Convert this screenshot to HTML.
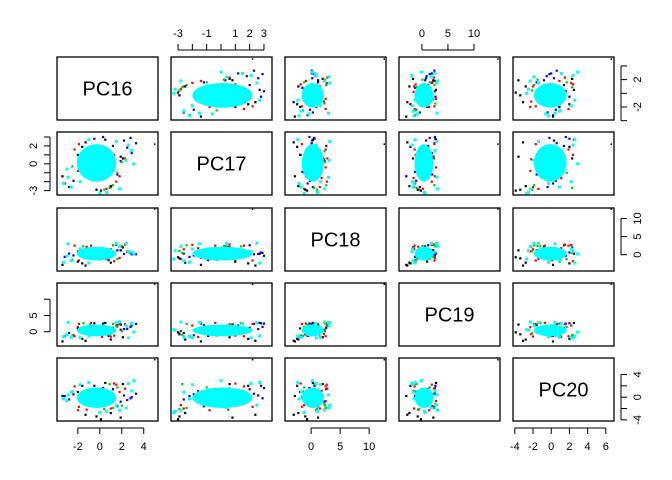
<!DOCTYPE html>
<html><head><meta charset="utf-8"><style>
body{margin:0;background:#fff;}
svg{display:block;font-family:"Liberation Sans",sans-serif;}
</style></head><body>
<svg id="c" width="672" height="480" viewBox="0 0 672 480" xmlns="http://www.w3.org/2000/svg"></svg>
<script>
const varNames=["PC16","PC17","PC18","PC19","PC20"];
const varMin=[-3.9,-3.49,-4.5,-4.4,-4.2];
const varMax=[5.3,3.56,12.9,15.0,6.9];
const coreCenter=[-0.3,0.1,0.3,0.4,-0.1];
const coreHalf=[1.8,2.1,1.9,1.8,1.8];
const grp=["blue","blue","blue","blue","blue","blue","blue","blue","blue","blue","blue","blue","blue","blue",
"red","red","red","red","red","red","red","red","red","red","red","red",
"green","green","green","green","green","green","green","green",
"black","black","black","black","black","black","black","black","black","black",
"cyan","cyan","cyan","cyan","cyan","cyan","cyan","cyan","cyan","cyan","cyan","cyan","cyan","cyan",
"black"];
const pc16=[2.2,2.8,3.3,2.5,-3.2,-2.8,-2.4,1.6,1.2,0.8,1.9,-0.5,0.3,2.9,
-2.3,-1.9,1.5,1.0,1.8,-1.2,0.6,2.3,-0.8,1.3,-2.0,0.2,
-2.5,1.2,0.9,-1.5,1.6,0.4,-0.9,2.0,
-1.6,-1.3,1.9,2.1,-2.0,0.1,-0.3,0.5,-3.4,1.0,
-3.3,-2.9,2.6,2.4,-2.6,1.8,-1.0,0.6,2.9,-3.0,1.5,-1.8,0.0,3.1,
5.0];
const pc17=[2.6,2.9,2.3,1.8,-2.2,-2.6,-1.9,-1.2,2.0,-0.9,0.3,2.8,3.0,1.2,
1.6,2.2,-2.0,-2.6,-1.4,0.5,-2.8,0.6,-0.4,1.0,-0.8,-1.6,
-0.3,-2.4,-2.7,1.4,-1.0,-2.9,0.8,0.2,
1.9,2.4,0.8,0.6,1.0,-3.0,-2.9,2.7,-1.4,-2.5,
-2.2,-1.5,2.1,0.4,-2.6,-2.8,2.7,-3.2,1.5,-0.6,2.5,-2.0,-3.3,0.0,
2.2];
const pc18=[0.2,0.5,0.1,0.8,-0.6,0.3,-0.2,1.2,2.6,-1.5,2.3,0.6,-0.3,0.1,
2.5,-1.6,2.7,1.5,-0.9,2.2,-1.2,2.8,2.5,-1.8,0.9,1.8,
-1.4,2.6,0.5,2.3,-1.2,1.0,-0.6,2.4,
-2.4,-3.0,1.2,2.0,-1.9,-0.7,-1.0,0.3,-2.8,-2.2,
-2.1,3.0,0.9,3.1,-1.7,2.3,-2.3,1.1,0.7,-0.4,3.2,1.6,-1.2,0.2,
12.6];
const pc19=[0.8,1.5,2.4,0.9,-1.3,-0.4,-1.1,2.0,1.2,-1.3,0.6,2.6,2.5,1.9,
-1.4,2.4,1.9,-1.5,2.5,-0.7,0.2,2.3,2.7,-1.2,1.4,-1.6,
-1.2,2.4,-1.0,2.6,1.5,-0.5,2.2,0.1,
-2.2,-2.8,2.2,-1.7,1.0,-0.2,-0.8,2.7,-3.0,-2.4,
-1.5,2.9,-1.9,1.8,-1.7,3.0,-1.3,0.5,2.5,-0.9,2.8,-1.8,0.6,-0.1,
14.6];
const pc20=[0.3,-0.2,0.6,-0.5,0.2,-0.4,0.5,-1.6,1.4,0.1,-0.8,2.0,1.6,0.0,
1.9,-1.7,2.2,-2.0,0.9,-2.2,-1.4,1.5,-0.7,2.4,-2.3,1.1,
1.0,-1.9,2.3,-1.2,1.7,-2.1,0.5,-1.5,
2.0,-3.1,-3.6,2.3,0.9,-3.9,-3.4,2.5,0.2,-2.8,
-0.3,0.4,2.4,-1.9,0.9,-2.3,2.6,-2.5,1.1,-0.6,-1.4,2.2,-2.7,2.9,
6.6];
const vals=[pc16,pc17,pc18,pc19,pc20];
const colorMap={blue:"#0000ff",red:"#ff0000",green:"#00cd00",black:"#000000",cyan:"#00ffff"};
const colX=[57,171,285,399,513], rowY=[57,132,208,283,358], PW=101, PH=63;
const svg=document.getElementById('c');
const NS="http://www.w3.org/2000/svg";
function mk(tag,attrs){const e=document.createElementNS(NS,tag);for(const k in attrs)e.setAttribute(k,attrs[k]);svg.appendChild(e);return e;}
function sx(j,v){return colX[j]+(v-varMin[j])/(varMax[j]-varMin[j])*PW;}
function sy(i,v){return rowY[i]+PH-(v-varMin[i])/(varMax[i]-varMin[i])*PH;}
for(let i=0;i<5;i++){for(let j=0;j<5;j++){
  if(i===j){
    const t=mk('text',{x:colX[j]+PW/2,y:rowY[i]+PH/2+7,'text-anchor':'middle','font-size':'20'});
    t.textContent=varNames[i];
    
    
  } else {
    const g=document.createElementNS(NS,'g');svg.appendChild(g);
    
    
    const cx=sx(j,coreCenter[j]),cy=sy(i,coreCenter[i]);
    const rx=sx(j,coreCenter[j]+coreHalf[j])-cx, ry=cy-sy(i,coreCenter[i]+coreHalf[i]);
    for(let k=0;k<grp.length;k++){
      if(grp[k]==='cyan')continue;
      const p=document.createElementNS(NS,'rect');
      const s=k===grp.length-1?1.5:2.2;
      p.setAttribute('x',sx(j,vals[j][k])-s/2);p.setAttribute('y',sy(i,vals[i][k])-s/2);
      p.setAttribute('width',s);p.setAttribute('height',s);p.setAttribute('fill',colorMap[grp[k]]);
      
      
      g.appendChild(p);
    }
    for(let k=0;k<grp.length;k++){
      if(grp[k]!=='cyan')continue;
      const p=document.createElementNS(NS,'rect');
      p.setAttribute('x',sx(j,vals[j][k])-1.5);p.setAttribute('y',sy(i,vals[i][k])-1.5);
      p.setAttribute('width',3);p.setAttribute('height',3);p.setAttribute('fill','#00ffff');
      
      
      g.appendChild(p);
    }
    const e=document.createElementNS(NS,'ellipse');
    e.setAttribute('cx',cx);e.setAttribute('cy',cy);e.setAttribute('rx',rx);e.setAttribute('ry',ry);e.setAttribute('fill','#00ffff');
    
    
    g.appendChild(e);
  }
  const r=mk('rect',{x:colX[j],y:rowY[i],width:PW,height:PH,fill:'none',stroke:'#000','stroke-width':'1.3'});
  
  
}}
const ticks16=[-2,0,2,4], tl16=["-2","0","2","4"];
const ticks17=[-3,-2,-1,0,1,2,3], tl17=["-3","","-1","","1","2","3"];
const ticks18=[0,5,10], tl18=["0","5","10"];
const ticks19=[0,5,10], tl19=["0","5","10"];
const ticks20=[-4,-2,0,2,4,6], tl20=["-4","-2","0","2","4","6"];
const ticks16y=[-4,-2,0,2,4], tl16y=["","-2","","2",""];
const ticks17y=[-3,-2,-1,0,1,2,3], tl17y=["-3","","","0","","2",""];
const ticks20y=[-4,-2,0,2,4], tl20y=["-4","","0","","4"];
function hAxis(j,ticks,labels,side){
  const y0=side==='bottom'?rowY[4]+PH:rowY[0];
  const d=side==='bottom'?1:-1;
  const xs=ticks.map(v=>sx(j,v));
  const l=mk('line',{x1:xs[0],x2:xs[xs.length-1],y1:y0+d*7,y2:y0+d*7,stroke:'#000'});
  
  
  ticks.forEach((v,k)=>{
    mk('line',{x1:xs[k],x2:xs[k],y1:y0+d*7,y2:y0+d*13,stroke:'#000'});
    if(labels[k]){const t=mk('text',{x:xs[k],y:side==='bottom'?y0+29:y0-20,'text-anchor':'middle','font-size':'11'});t.textContent=labels[k];
    
    }
  });
}
function vAxis(i,ticks,labels,side){
  const x0=side==='left'?colX[0]:colX[4]+PW;
  const d=side==='left'?-1:1;
  const ys=ticks.map(v=>sy(i,v));
  const l=mk('line',{x1:x0+d*7,x2:x0+d*7,y1:ys[0],y2:ys[ys.length-1],stroke:'#000'});
  
  
  ticks.forEach((v,k)=>{
    if(ys[k]<rowY[i]-8||ys[k]>rowY[i]+PH+8)return;
    mk('line',{x1:x0+d*7,x2:x0+d*13,y1:ys[k],y2:ys[k],stroke:'#000'});
    if(labels[k]){const tx=side==='left'?x0-20:x0+27;
      const t=mk('text',{x:tx,y:ys[k],'text-anchor':'middle','font-size':'11',transform:`rotate(-90 ${tx} ${ys[k]})`});t.textContent=labels[k];
      
      }
  });
}
hAxis(0,ticks16,tl16,'bottom');
hAxis(1,ticks17,tl17,'top');
hAxis(2,ticks18,tl18,'bottom');
hAxis(3,ticks19,tl19,'top');
hAxis(4,ticks20,tl20,'bottom');
vAxis(0,ticks16y,tl16y,'right');
vAxis(1,ticks17y,tl17y,'left');
vAxis(2,ticks18,tl18,'right');
vAxis(3,ticks19,["0","5",""],'left');
vAxis(4,ticks20y,tl20y,'right');
</script>
</body></html>
